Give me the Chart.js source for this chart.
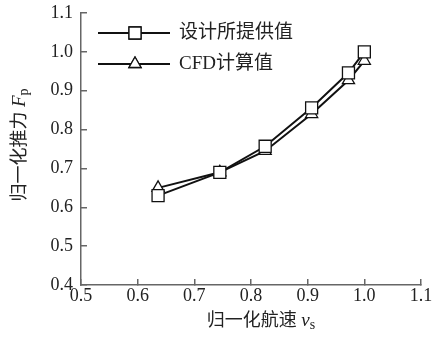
<!DOCTYPE html>
<html>
<head>
<meta charset="utf-8">
<script src="https://cdn.jsdelivr.net/npm/chart.js@4.4.0/dist/chart.umd.min.js"></script>
<style>
  html, body { margin: 0; padding: 0; background: #fff; }
  #wrap { width: 432px; height: 342px; }
</style>
</head>
<body>
<div id="wrap"><canvas id="chart"></canvas></div>
<script>
// values
const speeds = [0.636, 0.745, 0.825, 0.907, 0.972, 1.0];
const designThrust = [0.63, 0.69, 0.757, 0.856, 0.946, 1.0];
const cfdThrust = [0.65, 0.69, 0.745, 0.84, 0.927, 0.977];
const seriesNames = ["设计所提供值", "CFD计算值"];
const seriesMarkers = ["rect", "triangle"];
const xRange = [0.5, 1.1];
const yRange = [0.4, 1.1];

const serif = "'Liberation Serif', 'Noto Sans CJK SC', serif";
const axisColor = "#666";

function toPoints(xs, ys) {
    return xs.map((x, i) => ({ x: x, y: ys[i] }));
}

// draws mixed text pieces one after another, starting at x
function drawPieces(ctx, pieces, x, y) {
    pieces.forEach(p => {
        ctx.font = p.font;
        ctx.fillText(p.text, x, y + (p.dy || 0));
        x += ctx.measureText(p.text).width;
    });
}
function piecesWidth(ctx, pieces) {
    let w = 0;
    pieces.forEach(p => { ctx.font = p.font; w += ctx.measureText(p.text).width; });
    return w;
}

const extras = {
    id: "extras",
    afterDraw(chart) {
        const ctx = chart.ctx;
        ctx.save();
        ctx.fillStyle = "#222";
        ctx.textBaseline = "middle";
        ctx.textAlign = "left";

        // x axis title
        const xt = [
            { text: "归一化航速 ", font: "18px " + serif },
            { text: "v", font: "italic 19px " + serif },
            { text: "s", font: "14px " + serif, dy: 4 }
        ];
        drawPieces(ctx, xt, 261 - piecesWidth(ctx, xt) / 2, 321);

        // y axis title, rotated
        const yt = [
            { text: "归一化推力 ", font: "18px " + serif },
            { text: "F", font: "italic 19px " + serif },
            { text: "p", font: "14px " + serif, dy: 4 }
        ];
        ctx.save();
        ctx.translate(20, 145);
        ctx.rotate(-Math.PI / 2);
        drawPieces(ctx, yt, -piecesWidth(ctx, yt) / 2, 0);
        ctx.restore();

        // legend: line with marker, then label
        chart.data.datasets.forEach((ds, i) => {
            const y = 33 + i * 31;
            ctx.strokeStyle = "#111";
            ctx.lineWidth = 2;
            ctx.beginPath();
            ctx.moveTo(98, y);
            ctx.lineTo(170, y);
            ctx.stroke();
            ctx.fillStyle = "#fff";
            ctx.lineWidth = 1.3;
            Chart.helpers.drawPoint(ctx, {
                pointStyle: ds.pointStyle, radius: ds.pointRadius,
                borderWidth: 1.3, rotation: 0
            }, 135, y);
            ctx.fill();
            ctx.stroke();
            ctx.fillStyle = "#222";
            ctx.font = "19px " + serif;
            ctx.fillText(ds.label, 179, y);
        });
        ctx.restore();
    }
};

const ctx = document.getElementById("chart").getContext("2d");

new Chart(ctx, {
    type: "line",
    data: {
        datasets: [
            {
                label: seriesNames[0],
                data: toPoints(speeds, designThrust),
                pointStyle: seriesMarkers[0],
                pointRadius: 8.5
            },
            {
                label: seriesNames[1],
                data: toPoints(speeds, cfdThrust),
                pointStyle: seriesMarkers[1],
                pointRadius: 7
            }
        ].map(ds => Object.assign(ds, {
            borderColor: "#111",
            borderWidth: 2,
            pointBorderColor: "#111",
            pointBackgroundColor: "#fff",
            pointBorderWidth: 1.3,
            tension: 0,
            fill: false
        }))
    },
    options: {
        responsive: true,
        maintainAspectRatio: false,
        animation: false,
        layout: { padding: { top: 13, right: 11, left: 0, bottom: 0 } },
        plugins: {
            legend: { display: false },
            tooltip: { enabled: false }
        },
        scales: {
            x: {
                type: "linear",
                min: xRange[0],
                max: xRange[1],
                afterFit(scale) {
                    scale.height = 57;
                    scale.paddingLeft = 0;
                    scale.paddingRight = 0;
                },
                border: { display: true, color: axisColor, width: 1.5 },
                grid: { drawOnChartArea: false, drawTicks: true, tickLength: -6, color: axisColor, lineWidth: 1.5 },
                ticks: {
                    stepSize: 0.1,
                    padding: 6,
                    color: "#222",
                    font: { family: serif, size: 18 },
                    callback: v => v.toFixed(1)
                }
            },
            y: {
                type: "linear",
                min: yRange[0],
                max: yRange[1],
                afterFit(scale) {
                    scale.width = 81;
                    scale.paddingTop = 0;
                    scale.paddingBottom = 0;
                },
                border: { display: true, color: axisColor, width: 1.5 },
                grid: { drawOnChartArea: false, drawTicks: true, tickLength: -6, color: axisColor, lineWidth: 1.5 },
                ticks: {
                    stepSize: 0.1,
                    padding: 14,
                    color: "#222",
                    font: { family: serif, size: 18 },
                    callback: v => v.toFixed(1)
                }
            }
        }
    },
    plugins: [extras]
});
</script>
</body>
</html>
